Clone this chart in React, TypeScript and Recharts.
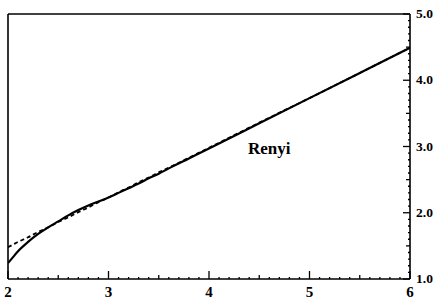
import { LineChart, Line, XAxis, YAxis, ReferenceLine, ReferenceDot } from 'recharts'

// values
const xValues = [2.0, 2.05, 2.1, 2.2, 2.3, 2.4, 2.5, 2.6, 2.7, 2.8, 2.9, 3.0, 3.1, 3.2, 3.3, 3.4, 3.5, 3.6, 3.8, 4.0, 4.5, 5.0, 5.5, 6.0]
const renyi = [1.24, 1.33, 1.42, 1.56, 1.68, 1.78, 1.87, 1.96, 2.04, 2.11, 2.17, 2.23, 2.30, 2.37, 2.44, 2.52, 2.59, 2.67, 2.82, 2.97, 3.35, 3.73, 4.11, 4.49]
const approx = [1.48, 1.52, 1.56, 1.63, 1.71, 1.78, 1.86, 1.93, 2.01, 2.08, 2.16, 2.23, 2.31, 2.38, 2.46, 2.53, 2.61, 2.68, 2.83, 2.98, 3.36, 3.73, 4.11, 4.49]

const xMajor = [2, 3, 4, 5, 6]
const yMajor = [1, 2, 3, 4, 5]

const data = xValues.map((x, i) => ({ x, renyi: renyi[i], approx: approx[i] }))

// minor ticks every 0.1
const xTicks = Array.from({ length: 41 }, (_, i) => Math.round((2 + i * 0.1) * 10) / 10)
const yTicks = Array.from({ length: 41 }, (_, i) => Math.round((1 + i * 0.1) * 10) / 10)

const FONT = '"Liberation Serif", "DejaVu Serif", serif'

const tickLen = (v: number, majors: number[], big: number) => {
  if (majors.includes(v)) return big
  if (Math.abs(v * 2 - Math.round(v * 2)) < 1e-6) return 4
  return 2
}

const XTick = (props: any) => {
  const { x, y, payload } = props
  const v = payload.value
  const len = tickLen(v, xMajor, 8)
  return (
    <g>
      <line x1={x} x2={x} y1={y} y2={y - len} stroke="#000" strokeWidth={1.3} />
      {xMajor.includes(v) && (
        <text x={x} y={y + 18} textAnchor="middle" fontSize={15} fontWeight="bold" fontFamily={FONT} fill="#000">
          {v}
        </text>
      )}
    </g>
  )
}

const YTick = (props: any) => {
  const { x, y, payload } = props
  const v = payload.value
  const len = tickLen(v, yMajor, 7)
  return (
    <g>
      <line x1={x} x2={x - len} y1={y} y2={y} stroke="#000" strokeWidth={1.3} />
      {yMajor.includes(v) && (
        <text x={x + 6} y={y + 4} textAnchor="start" fontSize={13.5} fontWeight="bold" fontFamily={FONT} fill="#000">
          {v.toFixed(1)}
        </text>
      )}
    </g>
  )
}

export default function App() {
  return (
    <div style={{ position: 'absolute', left: 0, top: 0, background: '#fff' }}>
      <LineChart width={438} height={299} data={data} margin={{ top: 14, right: 0, left: 8, bottom: 0 }}>
        <XAxis
          dataKey="x"
          type="number"
          domain={[2, 6]}
          ticks={xTicks}
          interval={0}
          height={20}
          tickSize={0}
          tickMargin={0}
          tickLine={false}
          axisLine={{ stroke: '#000', strokeWidth: 1.6 }}
          tick={<XTick />}
          allowDataOverflow
        />
        <YAxis
          orientation="right"
          type="number"
          domain={[1, 5]}
          ticks={yTicks}
          interval={0}
          width={28}
          tickSize={0}
          tickMargin={0}
          tickLine={false}
          axisLine={{ stroke: '#000', strokeWidth: 1.6 }}
          tick={<YTick />}
          allowDataOverflow
        />
        <ReferenceLine x={2} stroke="#000" strokeWidth={1.6} />
        <ReferenceLine y={5} stroke="#000" strokeWidth={1.6} />
        <Line
          dataKey="approx"
          type="monotone"
          stroke="#000"
          strokeWidth={1.8}
          strokeDasharray="4 3"
          dot={false}
          isAnimationActive={false}
        />
        <Line
          dataKey="renyi"
          type="monotone"
          stroke="#000"
          strokeWidth={2.2}
          dot={false}
          isAnimationActive={false}
        />
        <ReferenceDot
          x={4.6}
          y={2.98}
          r={0}
          fill="none"
          stroke="none"
          label={{ value: 'Renyi', position: 'center', fontSize: 17, fontWeight: 'bold', fontFamily: FONT, fill: '#000' }}
        />
      </LineChart>
    </div>
  )
}
